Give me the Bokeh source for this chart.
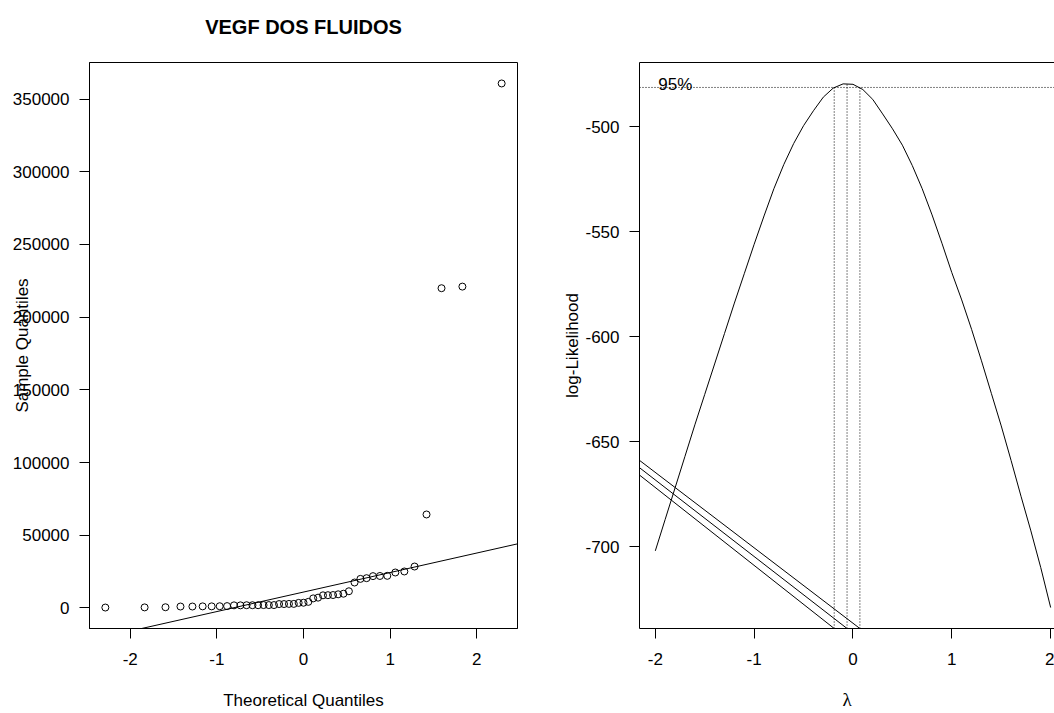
import math
import numpy as np
from bokeh.plotting import figure
from bokeh.layouts import row
from bokeh.models import (Range1d, FixedTicker, Slope, Span, Label, LinearAxis,
                          PrintfTickFormatter)
from bokeh.embed import file_html
from bokeh.resources import INLINE

# ---------------- data: QQ plot ----------------
title_text = "VEGF DOS FLUIDOS"
theoretical_q = [-2.287, -1.834, -1.593, -1.420, -1.282, -1.164, -1.060, -0.967, -0.882,
                 -0.802, -0.728, -0.657, -0.589, -0.524, -0.461, -0.400, -0.341, -0.282,
                 -0.225, -0.168, -0.112, -0.056, 0.000, 0.056, 0.112, 0.168, 0.225, 0.282,
                 0.341, 0.400, 0.461, 0.524, 0.589, 0.657, 0.728, 0.802, 0.882, 0.967,
                 1.060, 1.164, 1.282, 1.420, 1.593, 1.834, 2.287]
sample_q = [300, 400, 500, 1000, 1000, 1100, 1100, 1200, 1300,
            1800, 1800, 1900, 1900, 1900, 2000, 2000, 2000, 2700,
            2700, 2800, 2800, 3500, 3600, 4200, 6600, 7100, 8700, 8800,
            8900, 9400, 9800, 11500, 17500, 20000, 20500, 21900, 22000, 22100,
            24400, 25100, 28500, 64300, 219900, 221000, 360700]
qq_xticks = [-2, -1, 0, 1, 2]
qq_yticks = [0, 50000, 100000, 150000, 200000, 250000, 300000, 350000]
qq_xlabel = "Theoretical Quantiles"
qq_ylabel = "Sample Quantiles"

# ---------------- data: Box-Cox profile ----------------
lam = [-2.0, -1.9, -1.8, -1.7, -1.6, -1.5, -1.4, -1.3, -1.2, -1.1, -1.0,
       -0.9, -0.8, -0.7, -0.6, -0.5, -0.4, -0.3, -0.2, -0.1, 0.0,
       0.1, 0.2, 0.3, 0.4, 0.5, 0.6, 0.7, 0.8, 0.9, 1.0,
       1.1, 1.2, 1.3, 1.4, 1.5, 1.6, 1.7, 1.8, 1.9, 2.0]
loglik = [-702.0, -687.0, -672.0, -657.0, -642.0, -627.5, -613.0, -598.5, -584.0, -570.0, -556.0,
          -542.5, -529.5, -518.0, -508.0, -499.5, -492.4, -485.9, -481.6, -479.6, -479.8,
          -482.3, -487.0, -493.9, -501.0, -508.8, -518.5, -529.5, -542.0, -555.5, -569.5,
          -582.5, -596.5, -611.5, -627.0, -642.5, -659.0, -676.0, -692.5, -710.0, -729.0]
ci_lambda = [-0.19, -0.06, 0.07]
ci_top_ll = [-481.3, -479.4, -481.3]
ci_level = -481.3
diag_start_ll = [-665.9, -662.4, -658.9]
ci_label = "95%"
ci_label_lambda = -1.97
bc_xticks = [-2, -1, 0, 1, 2]
bc_yticks = [-700, -650, -600, -550, -500]
bc_xlabel = "λ"
bc_ylabel = "log-Likelihood"

FONT = "Liberation Sans"
FS = "17px"


def ext(lo, hi, f=0.04):
    s = hi - lo
    return lo - f * s, hi + f * s


def style_axes(p):
    for ax in p.xaxis + p.yaxis:
        ax.major_tick_in = 0
        ax.major_tick_out = 10
        ax.minor_tick_in = 0
        ax.minor_tick_out = 0
        ax.axis_line_color = "black"
        ax.major_tick_line_color = "black"
        ax.major_label_text_font = FONT
        ax.major_label_text_font_size = FS
        ax.major_label_text_color = "black"
        ax.formatter = PrintfTickFormatter(format="%d")
        ax.axis_label_text_font = FONT
        ax.axis_label_text_font_size = FS
        ax.axis_label_text_font_style = "normal"
        ax.axis_label_text_color = "black"
    for ax in p.xaxis:
        ax.major_label_text_line_height = 1.0
        ax.axis_label_text_line_height = 1.0
        ax.major_label_standoff = 14
        ax.axis_label_standoff = 23
    for ax in p.yaxis:
        ax.major_label_standoff = 10
        ax.major_label_orientation = "horizontal"


# ---------------- left: QQ plot ----------------
qx0, qx1 = ext(min(theoretical_q), max(theoretical_q))
qy0, qy1 = ext(min(sample_q), max(sample_q))
p1 = figure(width=560, height=713, x_range=Range1d(qx0, qx1), y_range=Range1d(qy0, qy1),
            output_backend="svg", toolbar_location=None,
            min_border_left=89, min_border_right=43, min_border_top=62, min_border_bottom=85)
p1.grid.visible = False
p1.outline_line_color = "black"
p1.outline_line_alpha = 1.0
p1.outline_line_width = 1
p1.background_fill_color = "white"
p1.border_fill_color = "white"
p1.xaxis.ticker = FixedTicker(ticks=qq_xticks)
p1.yaxis.ticker = FixedTicker(ticks=qq_yticks)
style_axes(p1)
p1.xaxis.axis_label = qq_xlabel
p1.yaxis.axis_label = qq_ylabel
p1.yaxis.axis_label_standoff = -22

# main title: drawn as the label of a bare axis above the frame
p1.title.text = ""
title_axis = LinearAxis(ticker=FixedTicker(ticks=[]), major_tick_out=0, major_tick_in=0,
                        minor_tick_out=0, minor_tick_in=0, axis_line_color=None,
                        axis_label=title_text, axis_label_standoff=25,
                        axis_label_text_font=FONT, axis_label_text_font_size="20px",
                        axis_label_text_font_style="bold", axis_label_text_color="black")
p1.add_layout(title_axis, "above")

p1.scatter(theoretical_q, sample_q, size=7, marker="circle", fill_color=None,
           line_color="black", line_width=1)

q1, q3 = np.quantile(np.array(sample_q, dtype=float), [0.25, 0.75])
z = 0.6744897501960817
slope = (q3 - q1) / (2 * z)
intercept = q1 + slope * z
p1.add_layout(Slope(gradient=slope, y_intercept=intercept, line_color="black", line_width=1))

# ---------------- right: Box-Cox ----------------
bx0, bx1_full = ext(min(lam), max(lam))
by0, by1 = ext(min(loglik), max(ci_top_ll))
frame_full = 428
frame_vis = 416
bx1 = bx0 + (bx1_full - bx0) * frame_vis / frame_full
p2 = figure(width=494, height=713, x_range=Range1d(bx0, bx1), y_range=Range1d(by0, by1),
            output_backend="svg", toolbar_location=None,
            min_border_left=78, min_border_right=0, min_border_top=62, min_border_bottom=85)
p2.grid.visible = False
p2.outline_line_color = None
p2.background_fill_color = "white"
p2.border_fill_color = "white"
p2.xaxis.ticker = FixedTicker(ticks=bc_xticks)
p2.yaxis.ticker = FixedTicker(ticks=bc_yticks)
style_axes(p2)
p2.xaxis.axis_label = bc_xlabel
p2.xaxis.axis_label_text_font = "Liberation Serif"
p2.xaxis.axis_label_text_font_size = "19px"
p2.xaxis.axis_label_standoff = 21
p2.yaxis.axis_label = bc_ylabel
p2.yaxis.axis_label_standoff = 0
top_axis = LinearAxis(ticker=FixedTicker(ticks=[]), major_tick_out=0, major_tick_in=0,
                      minor_tick_out=0, minor_tick_in=0, axis_line_color="black")
p2.add_layout(top_axis, "above")

p2.line(lam, loglik, line_color="black", line_width=1)
p2.add_layout(Span(location=ci_level, dimension="width", line_color="black",
                   line_width=1, line_dash="1 2"))
p2.segment(x0=ci_lambda, y0=[by0] * len(ci_lambda), x1=ci_lambda, y1=ci_top_ll,
           line_color="black", line_width=1, line_dash="1 2")
p2.segment(x0=[bx0] * len(ci_lambda), y0=diag_start_ll, x1=ci_lambda,
           y1=[by0] * len(ci_lambda), line_color="black", line_width=1)
p2.add_layout(Label(x=ci_label_lambda, y=ci_level, y_offset=3, text=ci_label,
                    text_font=FONT, text_font_size=FS, text_align="left",
                    text_baseline="alphabetic", text_color="black"))

layout = row(p1, p2, spacing=0)
open("out.html", "w").write(file_html(layout, INLINE))
